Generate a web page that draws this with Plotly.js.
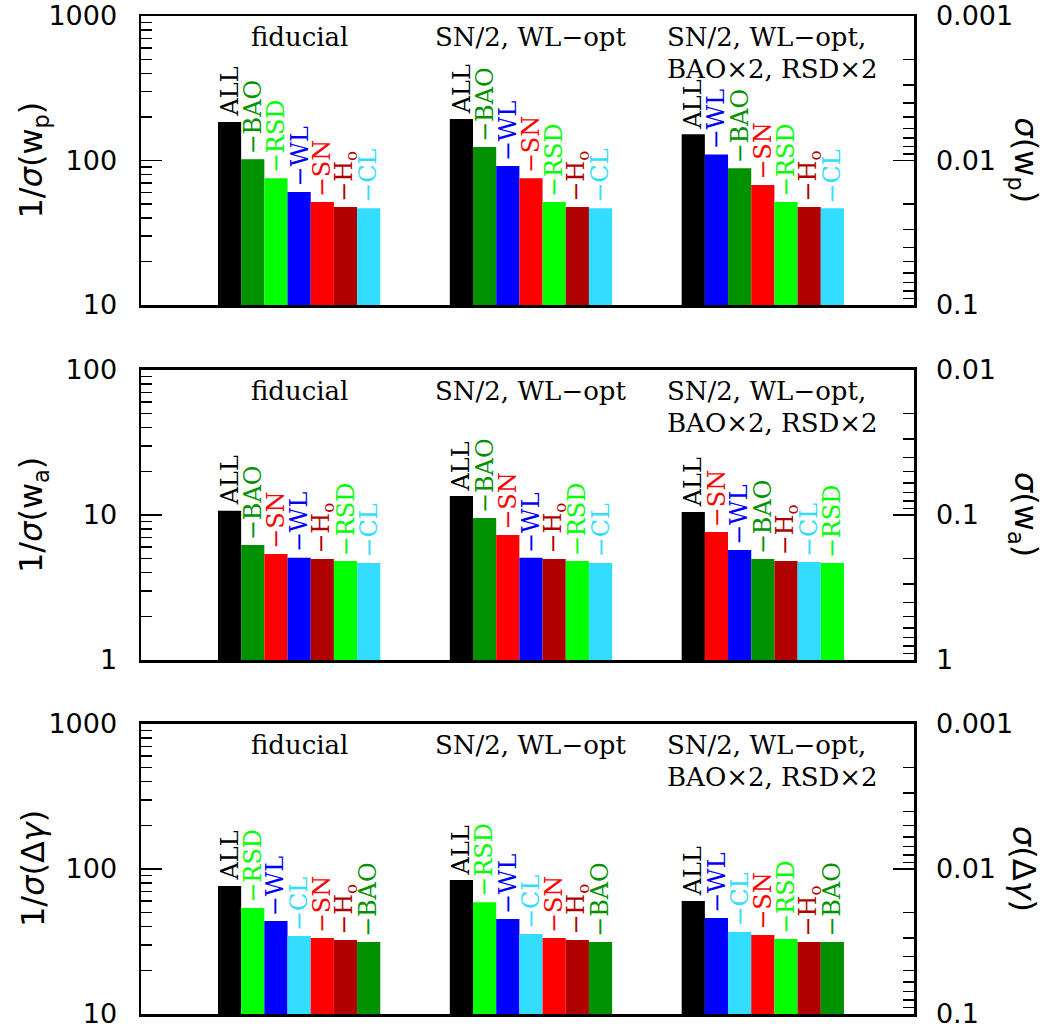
<!DOCTYPE html>
<html><head><meta charset="utf-8">
<script src="https://cdn.plot.ly/plotly-3.0.1.min.js"></script>
<style>html,body{margin:0;padding:0;background:#fff}</style>
</head><body><div id="chart" style="width:1047px;height:1032px"></div>
<script>
// ---- data ----
const groupTitles = [['fiducial'], ['SN/2, WL−opt'], ['SN/2, WL−opt,', 'BAO×2, RSD×2']];
const probeColors = {ALL:'#000000', BAO:'#009100', RSD:'#00FF00', WL:'#0000FF', SN:'#FF0000', H0:'#B00000', CL:'#33DDFF'};
const probeLabels = {ALL:'ALL', BAO:'−BAO', RSD:'−RSD', WL:'−WL', SN:'−SN', H0:'−H<sub>o</sub>', CL:'−CL'};

const wpOrder = [['ALL','BAO','RSD','WL','SN','H0','CL'],
                 ['ALL','BAO','WL','SN','RSD','H0','CL'],
                 ['ALL','WL','BAO','SN','RSD','H0','CL']];
const wpValues = [[185,102,75.3,60.5,51.6,47.7,46.7],
                  [194,124,91.6,75.3,51.6,47.7,46.7],
                  [152,110,88.3,67.7,51.6,47.7,46.7]];

const waOrder = [['ALL','BAO','SN','WL','H0','RSD','CL'],
                 ['ALL','BAO','SN','WL','H0','RSD','CL'],
                 ['ALL','SN','WL','BAO','H0','CL','RSD']];
const waValues = [[10.7,6.21,5.38,5.08,4.97,4.82,4.67],
                  [13.5,9.53,7.28,5.08,4.97,4.82,4.67],
                  [10.5,7.64,5.74,4.97,4.82,4.74,4.67]];

const dgOrder = [['ALL','RSD','WL','CL','SN','H0','BAO'],
                 ['ALL','RSD','WL','CL','SN','H0','BAO'],
                 ['ALL','WL','CL','SN','RSD','H0','BAO']];
const dgValues = [[76.3,53.8,43.8,34.5,33.4,32.4,31.4],
                  [84.0,58.9,45.2,35.6,33.4,32.4,31.4],
                  [60.2,45.9,36.8,35.1,32.9,31.4,31.4]];

const leftTitles = ['1/<i>σ</i>(w<sub>p</sub>)', '1/<i>σ</i>(w<sub>a</sub>)', '1/<i>σ</i>(Δ<i>γ</i>)'];
const rightTitles = ['<i>σ</i>(w<sub>p</sub>)', '<i>σ</i>(w<sub>a</sub>)', '<i>σ</i>(Δ<i>γ</i>)'];
const leftDecades = [[1,3],[0,2],[1,3]];      // log10 of 1/sigma range
const leftTickText = [['10','100','1000'],['1','10','100'],['10','100','1000']];
const rightTickText = [['0.1','0.01','0.001'],['1','0.1','0.01'],['0.1','0.01','0.001']];

// ---- layout helpers ----
const panels = [
  {order: wpOrder, values: wpValues},
  {order: waOrder, values: waValues},
  {order: dgOrder, values: dgValues}
];
const domains = [[0.7104, 1.0], [0.3547, 0.6453], [0.0, 0.2906]];
const serif = 'DejaVu Serif';
const sans = 'DejaVu Sans';

const traces = [];
const annotations = [];
const layout = {
  width: 1047, height: 1032,
  margin: {l: 141, r: 133, t: 16, b: 18, pad: 0},
  paper_bgcolor: '#fff', plot_bgcolor: '#fff',
  showlegend: false,
  annotations: annotations
};

function logVals(lo, hi) {
  const out = [];
  for (let d = lo; d < hi; d++) for (let m = 2; m <= 9; m++) out.push(m * Math.pow(10, d));
  return out;
}

panels.forEach((p, k) => {
  const xs = k === 0 ? 'x' : 'x' + (k + 1);
  const yl = 'y' + (2 * k + 1 === 1 ? '' : 2 * k + 1);
  const yr = 'y' + (2 * k + 2);
  const xName = k === 0 ? 'xaxis' : 'xaxis' + (k + 1);
  const ylName = 'yaxis' + (2 * k + 1 === 1 ? '' : 2 * k + 1);
  const yrName = 'yaxis' + (2 * k + 2);
  const [lo, hi] = leftDecades[k];

  const bx = [], by = [], bc = [];
  p.order.forEach((ord, g) => {
    ord.forEach((name, i) => {
      const xv = g * 10 + i;
      const v = p.values[g][i];
      bx.push(xv); by.push(v); bc.push(probeColors[name]);
      annotations.push({
        xref: xs, yref: yl, x: xv, y: Math.log10(v),
        text: probeLabels[name], showarrow: false, textangle: -90,
        xanchor: 'center', yanchor: 'bottom', yshift: 3,
        font: {family: serif, size: 24, color: probeColors[name]}
      });
    });
    // group headings
    const lines = groupTitles[g];
    if (lines.length === 1) {
      annotations.push({xref: xs, yref: yl + ' domain', x: g * 10 + 3, y: 0.927,
        text: lines[0], showarrow: false, xanchor: 'center', yanchor: 'middle',
        font: {family: serif, size: 26, color: '#000'}});
    } else {
      lines.forEach((t, j) => {
        annotations.push({xref: xs, yref: yl + ' domain', x: g * 10 - 1.2, y: j === 0 ? 0.927 : 0.818,
          text: t, showarrow: false, xanchor: 'left', yanchor: 'middle',
          font: {family: serif, size: 26, color: '#000'}});
      });
    }
  });

  traces.push({type: 'bar', x: bx, y: by, width: 1, xaxis: xs, yaxis: yl,
    marker: {color: bc, line: {width: 0}}, hoverinfo: 'skip'});
  traces.push({type: 'scatter', x: [], y: [], xaxis: xs, yaxis: yr, hoverinfo: 'skip', showlegend: false});

  layout[xName] = {
    domain: [0, 1], range: [-3.82, 29.52], anchor: yl,
    showticklabels: false, ticks: '', showgrid: false, zeroline: false,
    showline: true, mirror: true, linewidth: 2.5, linecolor: '#000', fixedrange: true
  };
  const majL = [];
  for (let d = lo; d <= hi; d++) majL.push(Math.pow(10, d));
  layout[ylName] = {
    domain: domains[k], anchor: xs, type: 'log', range: [lo, hi],
    tickmode: 'array', tickvals: majL, ticktext: leftTickText[k],
    ticks: 'inside', ticklen: 21, tickwidth: 1.5, tickcolor: '#000',
    minor: {ticks: 'inside', ticklen: 11, tickwidth: 1.5, tickcolor: '#000',
            tickmode: 'array', tickvals: logVals(lo, hi), showgrid: false},
    showgrid: false, zeroline: false, showline: true, linewidth: 2.5, linecolor: '#000',
    tickfont: {family: sans, size: 27, color: '#000'}, ticklabelstandoff: 16, fixedrange: true
  };
  const majR = [];
  for (let d = -lo; d >= -hi; d--) majR.push(Math.pow(10, d));
  layout[yrName] = {
    overlaying: yl, side: 'right', anchor: xs, type: 'log', range: [-lo, -hi],
    tickmode: 'array', tickvals: majR, ticktext: rightTickText[k],
    ticks: 'inside', ticklen: 21, tickwidth: 1.5, tickcolor: '#000',
    minor: {ticks: 'inside', ticklen: 11, tickwidth: 1.5, tickcolor: '#000',
            tickmode: 'array', tickvals: logVals(-hi, -lo), showgrid: false},
    showgrid: false, zeroline: false, showline: true, linewidth: 2.5, linecolor: '#000',
    tickfont: {family: sans, size: 27, color: '#000'}, ticklabelstandoff: 14, fixedrange: true
  };

  annotations.push({xref: 'paper', yref: yl + ' domain', x: (33 - 141) / 773, y: 0.5,
    text: leftTitles[k], showarrow: false, textangle: -90, xanchor: 'center', yanchor: 'middle',
    font: {family: sans, size: 32, color: '#000'}});
  annotations.push({xref: 'paper', yref: yl + ' domain', x: (1024 - 141) / 773, y: 0.5,
    text: rightTitles[k], showarrow: false, textangle: 90, xanchor: 'center', yanchor: 'middle',
    font: {family: sans, size: 32, color: '#000'}});
});

Plotly.newPlot('chart', traces, layout, {staticPlot: true, displayModeBar: false});
</script>
</body></html>
